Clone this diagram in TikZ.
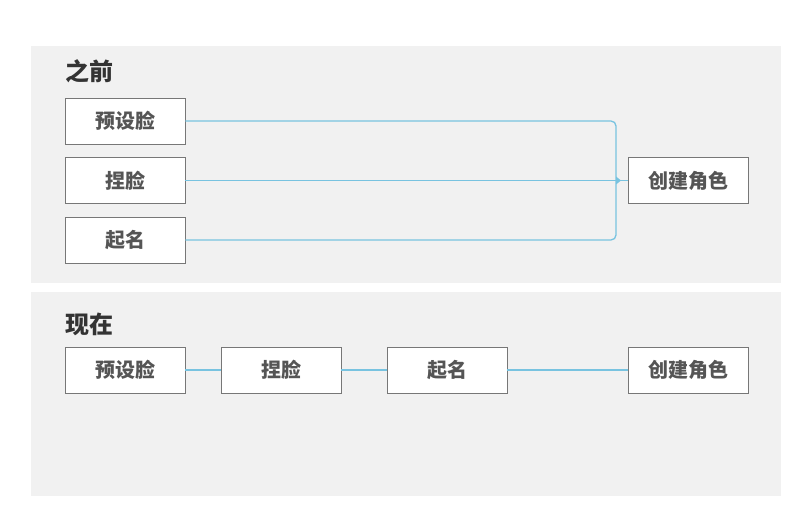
\documentclass[tikz,border=0pt]{standalone}
\usepackage{fontspec}
\newfontfamily\cjk{Noto Sans CJK SC}[BoldFont={Noto Sans CJK SC Black}]
\definecolor{panelgray}{HTML}{F1F1F1}
\definecolor{boxline}{HTML}{777777}
\definecolor{linkblue}{HTML}{78C3E0}
\definecolor{textgray}{HTML}{555555}
\definecolor{titlegray}{HTML}{333333}
\begin{document}
\begin{tikzpicture}[x=1pt,y=-1pt,
  panel/.style={fill=panelgray,draw=none},
  stepbox/.style={draw=boxline,line width=0.9pt,fill=white,minimum width=120pt,minimum height=46pt,inner sep=0pt,font=\cjk\bfseries\fontsize{20}{24}\selectfont,text=textgray},
  title/.style={anchor=west,inner sep=0pt,font=\cjk\bfseries\fontsize{24}{28}\selectfont,text=titlegray},
  link/.style={draw=linkblue,line width=1.3pt}]
\useasboundingbox (0,0) rectangle (809,524);
% panels
\fill[panel] (31,46) rectangle (781,283);
\fill[panel] (31,292) rectangle (781,496);
% before
\node[title] (t1) at (65,71) {之前};
\node[stepbox] (a1) at (125,121) {预设脸};
\node[stepbox] (a2) at (125,180.5) {捏脸};
\node[stepbox] (a3) at (125,240) {起名};
\node[stepbox] (a4) at (688,180.5) {创建角色};
\coordinate (j) at (616,180.5);
\draw[link,rounded corners=5pt] (a1.east) -| (j) |- (a3.east);
\draw[link] (a2.east) -- (j);
\draw[link] (j) -- (a4.west);
\fill[linkblue] (616,176.5) -- (621,180.5) -- (616,184.5) -- cycle;
% now
\node[title] (t2) at (65,324) {现在};
\node[stepbox] (b1) at (125,370) {预设脸};
\node[stepbox] (b2) at (281,370) {捏脸};
\node[stepbox] (b3) at (447,370) {起名};
\node[stepbox] (b4) at (688,370) {创建角色};
\draw[link] (b1) -- (b2);
\draw[link] (b2) -- (b3);
\draw[link] (b3) -- (b4);
\end{tikzpicture}
\end{document}
